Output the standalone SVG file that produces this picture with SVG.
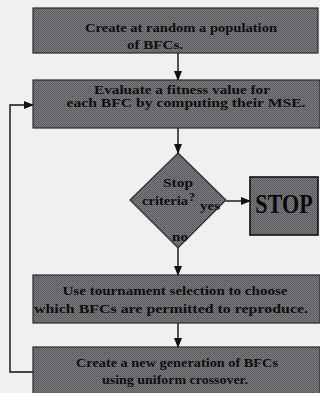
<svg xmlns="http://www.w3.org/2000/svg" width="320" height="393" viewBox="0 0 320 393">
<defs>
<pattern id="dots" width="2" height="2" patternUnits="userSpaceOnUse">
<rect width="2" height="2" fill="#7c7c80"/>
<rect width="1" height="1" fill="#545458"/>
<rect x="1" y="1" width="1" height="1" fill="#606064"/>
</pattern>
<marker id="ah" markerWidth="10" markerHeight="8" refX="9" refY="4" orient="auto" markerUnits="userSpaceOnUse">
<path d="M0,0 L10,4 L0,8 Z" fill="#111"/>
</marker>
<style>
.box{fill:url(#dots);stroke:#2a2a2a;stroke-width:1.2}
.t{font-family:"Liberation Serif","Times New Roman",serif;font-size:13.5px;fill:#0e0e0e;text-anchor:middle;font-weight:bold}
.c{stroke:#111;stroke-width:1.4;fill:none}
</style>
</defs>
<rect width="320" height="393" fill="#f1efef"/>
<g id="connectors">
<line class="c" x1="178" y1="53" x2="178" y2="80" marker-end="url(#ah)"/>
<line class="c" x1="178" y1="128" x2="178" y2="153" marker-end="url(#ah)"/>
<line class="c" x1="226" y1="201" x2="250" y2="201" marker-end="url(#ah)"/>
<line class="c" x1="178" y1="248" x2="178" y2="275" marker-end="url(#ah)"/>
<line class="c" x1="178" y1="323" x2="178" y2="347" marker-end="url(#ah)"/>
<polyline class="c" points="33,372 10,372 10,105 33,105" marker-end="url(#ah)"/>
</g>
<g id="create">
<rect class="box" x="33" y="8" width="285" height="45"/>
<text class="t" x="181" y="32" textLength="192" lengthAdjust="spacingAndGlyphs">Create at random a population</text>
<text class="t" x="155" y="49" textLength="56" lengthAdjust="spacingAndGlyphs">of BFCs.</text>
</g>
<g id="evaluate">
<rect class="box" x="33" y="80" width="287" height="48"/>
<text class="t" x="182" y="94" style="font-size:12.5px" textLength="176" lengthAdjust="spacingAndGlyphs">Evaluate a fitness value for</text>
<text class="t" x="186" y="107" style="font-size:12.5px" textLength="239" lengthAdjust="spacingAndGlyphs">each BFC by computing their MSE.</text>
</g>
<g id="decision">
<polygon class="box" points="178,153 226,200 178,248 130,200"/>
<text class="t" x="178" y="187" textLength="30" lengthAdjust="spacingAndGlyphs">Stop</text>
<text class="t" x="165" y="205" textLength="46" lengthAdjust="spacingAndGlyphs">criteria</text>
<text class="t" x="192" y="201" style="font-size:12px">?</text>
<text class="t" x="210" y="210" textLength="20" lengthAdjust="spacingAndGlyphs">yes</text>
<text class="t" x="180" y="241" textLength="16" lengthAdjust="spacingAndGlyphs">no</text>
</g>
<g id="stop">
<rect class="box" x="250" y="177" width="68" height="58" style="stroke-width:1.6;stroke:#111"/>
<text transform="translate(284,213) scale(0.82,1)" x="0" y="0" font-family="Liberation Serif, Times New Roman, serif" font-size="27" font-weight="bold" fill="#0a0a0a" text-anchor="middle">STOP</text>
</g>
<g id="tournament">
<rect class="box" x="33" y="275" width="287" height="48"/>
<text class="t" x="175" y="295" textLength="225" lengthAdjust="spacingAndGlyphs">Use tournament selection to choose</text>
<text class="t" x="171" y="313" textLength="274" lengthAdjust="spacingAndGlyphs">which BFCs are permitted to reproduce.</text>
</g>
<g id="generation">
<rect class="box" x="33" y="347" width="287" height="50"/>
<text class="t" x="177" y="367" textLength="202" lengthAdjust="spacingAndGlyphs">Create a new generation of BFCs</text>
<text class="t" x="175" y="384" textLength="146" lengthAdjust="spacingAndGlyphs">using uniform crossover.</text>
</g>
</svg>
